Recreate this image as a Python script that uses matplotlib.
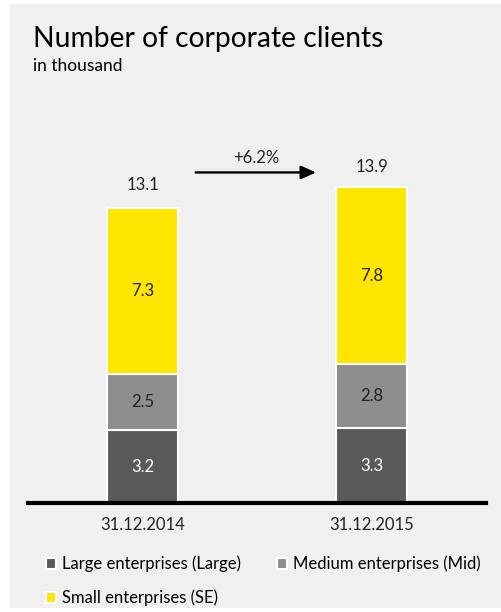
import matplotlib.pyplot as plt
from matplotlib.patches import Rectangle
import numpy as np

plt.rcParams['font.family'] = ['Lato', 'DejaVu Sans']

# data
dates = ["31.12.2014", "31.12.2015"]
large = [3.2, 3.3]
mid = [2.5, 2.8]
small = [7.3, 7.8]
totals = [13.1, 13.9]
growth = "+6.2%"

c_large = "#5a5a5a"
c_mid = "#8e8e8e"
c_small = "#ffe600"
bg = "#f0f0f0"

fig = plt.figure(figsize=(5.01, 6.12), dpi=100, facecolor="white")
# grey panel behind everything
fig.patches.append(Rectangle((10 / 501, 4 / 612), 491 / 501, 604 / 612,
                             transform=fig.transFigure, facecolor=bg,
                             edgecolor="none", zorder=-10))

ax = fig.add_axes([28 / 501, 109 / 612, 458 / 501, 363.5 / 612])
ax.set_facecolor("none")

x = np.arange(len(dates))
w = 0.314
b1 = ax.bar(x, large, w, color=c_large, edgecolor="white", linewidth=1.5,
            label="Large enterprises (Large)")
b2 = ax.bar(x, mid, w, bottom=large, color=c_mid, edgecolor="white",
            linewidth=1.5, label="Medium enterprises (Mid)")
bottom2 = np.array(large) + np.array(mid)
b3 = ax.bar(x, small, w, bottom=bottom2, color=c_small, edgecolor="white",
            linewidth=1.5, label="Small enterprises (SE)")

for i in x:
    ax.text(i, large[i] / 2, f"{large[i]:.1f}", ha="center", va="center",
            color="white", fontsize=12)
    ax.text(i, large[i] + mid[i] / 2, f"{mid[i]:.1f}", ha="center",
            va="center", color="#222222", fontsize=12)
    ax.text(i, bottom2[i] + small[i] / 2, f"{small[i]:.1f}", ha="center",
            va="center", color="#222222", fontsize=12)
    ax.text(i, totals[i] + 0.55, f"{totals[i]:.1f}", ha="center",
            va="bottom", color="#222222", fontsize=12)

# growth arrow
ax.annotate("", xy=(0.77, 14.55), xytext=(0.22, 14.55),
            arrowprops=dict(arrowstyle="-|>,head_length=0.9,head_width=0.4",
                            color="black", lw=1.7))
ax.text(0.495, 14.85, growth, ha="center", va="bottom", fontsize=12,
        color="#222222")

ax.set_xlim(-0.5, 1.5)
ax.set_ylim(0, 16)
ax.set_xticks(x)
ax.set_xticklabels(dates, fontsize=12, color="#222222")
ax.tick_params(axis="x", length=0, pad=10)
ax.set_yticks([])
for s in ["top", "right", "left"]:
    ax.spines[s].set_visible(False)
ax.spines["bottom"].set_linewidth(3)

fig.text(33 / 501, 1 - 47 / 612, "Number of corporate clients", fontsize=20.3,
         color="black", va="baseline")
fig.text(33 / 501, 1 - 71 / 612, "in thousand", fontsize=12.5,
         color="black", va="baseline")

handles = [b1, b3, b2]
labels = [h.get_label() for h in handles]
fig.legend(handles, labels, ncol=2, loc="upper left",
           bbox_to_anchor=(39 / 501, 1 - 549 / 612), frameon=False,
           fontsize=12, handlelength=0.6, handleheight=0.6,
           handletextpad=0.35, columnspacing=2.2, labelspacing=1.05,
           borderaxespad=0)

fig.savefig("out.png", dpi=100, facecolor="white")
